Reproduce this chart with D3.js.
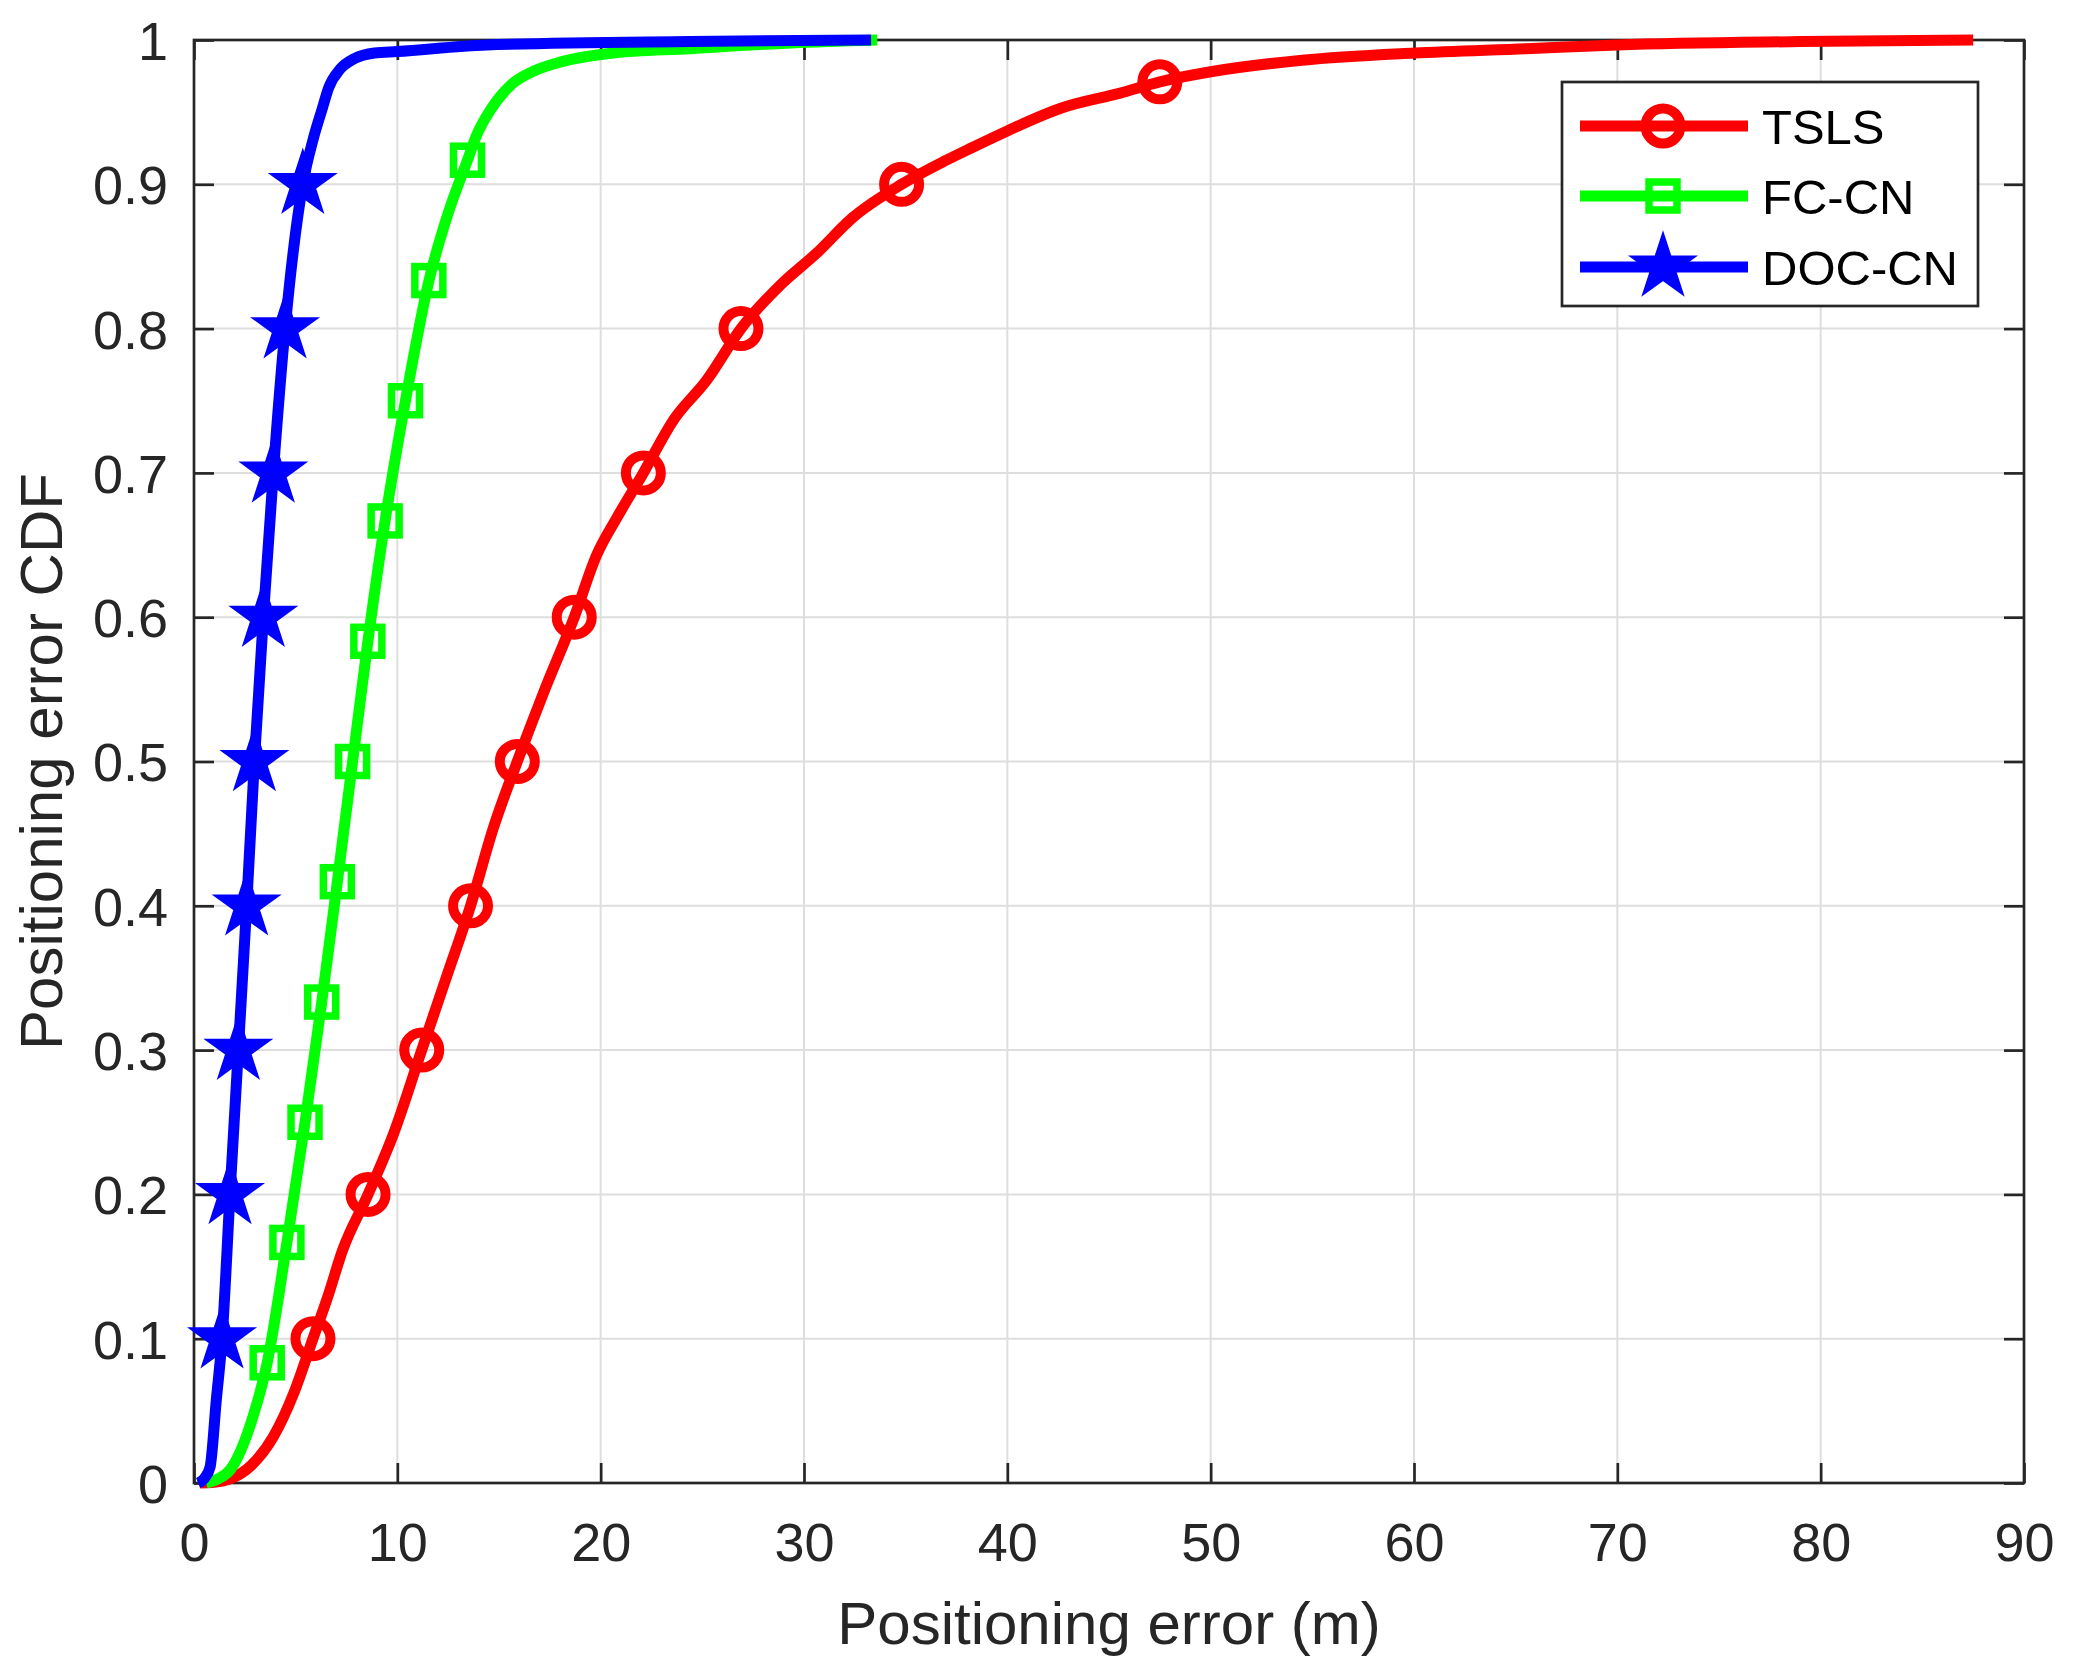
<!DOCTYPE html>
<html>
<head>
<meta charset="utf-8">
<script src="https://cdn.jsdelivr.net/npm/d3@7"></script>
<style>
  html, body { margin: 0; padding: 0; background: #fff; }
  svg { display: block; }
  text { font-family: "Liberation Sans", Arial, Helvetica, sans-serif; }
</style>
</head>
<body>
<svg id="chart" width="2076" height="1674"></svg>
<script>
// ---------------- DATA ----------------
const xTicks = [0, 10, 20, 30, 40, 50, 60, 70, 80, 90];
const xTickLabels = ["0", "10", "20", "30", "40", "50", "60", "70", "80", "90"];
const yTicks = [0, 0.1, 0.2, 0.3, 0.4, 0.5, 0.6, 0.7, 0.8, 0.9, 1];
const yTickLabels = ["0", "0.1", "0.2", "0.3", "0.4", "0.5", "0.6", "0.7", "0.8", "0.9", "1"];

const seriesNames = ["TSLS", "FC-CN", "DOC-CN"];
const seriesColors = ["#ff0000", "#00ff00", "#0000ff"];
const seriesMarkers = ["circle", "square", "star"];

// TSLS curve (x = error in m, y = CDF)
const tslsX = [0.3, 1.0, 1.8, 2.8, 3.9, 4.9, 5.85, 6.6, 7.3, 8.56, 9.84, 11.2, 12.4, 13.6, 14.7, 15.9, 17.2, 18.7, 19.8, 20.8, 22.1, 23.6, 25.2, 26.9, 28.9, 30.6, 32.4, 34.8, 36.9, 38.2, 40, 42.7, 45.5, 47.5, 50, 54.5, 60, 65.5, 70, 79, 87.5];
const tslsY = [0, 0.0005, 0.003, 0.012, 0.032, 0.062, 0.10, 0.13, 0.161, 0.2, 0.243, 0.3, 0.35, 0.4, 0.453, 0.5, 0.548, 0.6, 0.643, 0.669, 0.7, 0.737, 0.764, 0.8, 0.831, 0.852, 0.877, 0.9, 0.916, 0.925, 0.937, 0.953, 0.963, 0.971, 0.978, 0.986, 0.991, 0.994, 0.9966, 0.9989, 1.0];

// FC-CN curve
const fccnX = [0.6, 1.2, 1.77, 2.9, 3.6, 4.57, 5.46, 6.28, 7.05, 7.8, 8.55, 9.4, 10.4, 11.55, 12.5, 13.45, 13.9, 14.6, 15.6, 16.8, 18.1, 20.6, 24.4, 29.4, 33.6];
const fccnY = [0, 0.003, 0.009, 0.046, 0.0833, 0.1667, 0.25, 0.333, 0.4167, 0.5, 0.583, 0.667, 0.75, 0.833, 0.88, 0.9167, 0.934, 0.952, 0.969, 0.979, 0.985, 0.991, 0.994, 0.998, 1.0];

// DOC-CN curve
const doccnX = [0.2, 0.5, 0.79, 1.1, 1.38, 1.77, 2.18, 2.59, 2.97, 3.41, 3.9, 4.48, 5.35, 5.875, 6.3, 6.625, 7.2, 7.875, 8.875, 10, 14.4, 24.4, 33.3];
const doccnY = [0, 0.003, 0.011, 0.058, 0.1, 0.2, 0.3, 0.4, 0.5, 0.6, 0.7, 0.8, 0.9, 0.932, 0.952, 0.967, 0.98, 0.987, 0.991, 0.992, 0.9966, 0.999, 1.0];

// marker positions
const tslsMarkX = [5.85, 8.56, 11.2, 13.6, 15.9, 18.7, 22.1, 26.9, 34.8, 47.5];
const tslsMarkY = [0.1, 0.2, 0.3, 0.4, 0.5, 0.6, 0.7, 0.8, 0.9, 0.971];
const fccnMarkX = [3.6, 4.57, 5.46, 6.28, 7.05, 7.8, 8.55, 9.4, 10.4, 11.55, 13.45];
const fccnMarkY = [0.0833, 0.1667, 0.25, 0.3333, 0.4167, 0.5, 0.5833, 0.6667, 0.75, 0.8333, 0.9167];
const doccnMarkX = [1.38, 1.77, 2.18, 2.59, 2.97, 3.41, 3.9, 4.48, 5.35];
const doccnMarkY = [0.1, 0.2, 0.3, 0.4, 0.5, 0.6, 0.7, 0.8, 0.9];

const xLabel = "Positioning error (m)";
const yLabel = "Positioning error CDF";

// ---------------- LAYOUT ----------------
const L = 194, R = 2024, T = 40, B = 1483;
const x = d3.scaleLinear().domain([0, 90]).range([L, R]);
const y = d3.scaleLinear().domain([0, 1]).range([B, T]);
const axisColor = "#262626";
const tickFont = 54, labelFont = 60, legendFont = 49;
const lineW = 11;
const tickLen = 20;

const svg = d3.select("#chart");
svg.append("rect").attr("width", 2076).attr("height", 1674).attr("fill", "#fff");

// grid
const grid = svg.append("g");
grid.selectAll("line.gx").data(xTicks.slice(1, -1)).join("line")
  .attr("x1", d => x(d)).attr("x2", d => x(d)).attr("y1", T).attr("y2", B)
  .attr("stroke", "#dedede").attr("stroke-width", 2);
grid.selectAll("line.gy").data(yTicks.slice(1, -1)).join("line")
  .attr("y1", d => y(d)).attr("y2", d => y(d)).attr("x1", L).attr("x2", R)
  .attr("stroke", "#dedede").attr("stroke-width", 2);

// axes (ticks inward on all sides)
function styleAxis(g) {
  g.select(".domain").remove();
  g.selectAll(".tick line").attr("stroke", axisColor).attr("stroke-width", 2.7);
  g.selectAll(".tick text").attr("fill", axisColor).style("font-size", tickFont + "px")
    .style("font-family", '"Liberation Sans", Arial, sans-serif');
}
const gx = svg.append("g").attr("transform", `translate(0,${B})`)
  .call(d3.axisBottom(x).tickValues(xTicks).tickFormat((d, i) => xTickLabels[i])
    .tickSizeInner(-tickLen).tickSizeOuter(0).tickPadding(40));
styleAxis(gx);
const gy = svg.append("g").attr("transform", `translate(${L},0)`)
  .call(d3.axisLeft(y).tickValues(yTicks).tickFormat((d, i) => yTickLabels[i])
    .tickSizeInner(-tickLen).tickSizeOuter(0).tickPadding(26));
styleAxis(gy);
gy.selectAll(".tick text").attr("dy", "0.36em");
const gt = svg.append("g").attr("transform", `translate(0,${T})`)
  .call(d3.axisTop(x).tickValues(xTicks).tickFormat("").tickSizeInner(-tickLen).tickSizeOuter(0));
styleAxis(gt);
const gr = svg.append("g").attr("transform", `translate(${R},0)`)
  .call(d3.axisRight(y).tickValues(yTicks).tickFormat("").tickSizeInner(-tickLen).tickSizeOuter(0));
styleAxis(gr);

svg.append("rect").attr("x", L).attr("y", T).attr("width", R - L).attr("height", B - T)
  .attr("fill", "none").attr("stroke", axisColor).attr("stroke-width", 2.7);

// axis labels
svg.append("text").attr("x", (L + R) / 2).attr("y", 1644).attr("text-anchor", "middle")
  .attr("fill", axisColor).style("font-size", labelFont + "px").text(xLabel);
svg.append("text").attr("transform", `translate(62,${(T + B) / 2}) rotate(-90)`)
  .attr("text-anchor", "middle").attr("fill", axisColor)
  .style("font-size", labelFont + "px").text(yLabel);

// marker shapes
function starPath(Ro) {
  const ri = Ro * 0.382;
  const pts = [];
  for (let k = 0; k < 10; k++) {
    const a = -Math.PI / 2 + k * Math.PI / 5;
    const r = k % 2 === 0 ? Ro : ri;
    pts.push([r * Math.cos(a), r * Math.sin(a)]);
  }
  return "M" + pts.map(p => p[0].toFixed(2) + "," + p[1].toFixed(2)).join("L") + "Z";
}
function drawMarker(g, type, color, cx, cy) {
  if (type === "circle") {
    g.append("circle").attr("cx", cx).attr("cy", cy).attr("r", 17.5)
      .attr("fill", "none").attr("stroke", color).attr("stroke-width", 10);
  } else if (type === "square") {
    g.append("rect").attr("x", cx - 14).attr("y", cy - 14).attr("width", 28).attr("height", 28)
      .attr("fill", "none").attr("stroke", color).attr("stroke-width", 7.5);
  } else {
    g.append("path").attr("transform", `translate(${cx},${cy})`).attr("d", starPath(32))
      .attr("fill", color).attr("stroke", color).attr("stroke-width", 3).attr("stroke-linejoin", "miter");
  }
}

// curves
const curveData = [
  { xs: tslsX, ys: tslsY, mx: tslsMarkX, my: tslsMarkY },
  { xs: fccnX, ys: fccnY, mx: fccnMarkX, my: fccnMarkY },
  { xs: doccnX, ys: doccnY, mx: doccnMarkX, my: doccnMarkY }
];
const line = d3.line().x(d => x(d[0])).y(d => y(d[1])).curve(d3.curveMonotoneX);
curveData.forEach((s, i) => {
  const g = svg.append("g");
  const pts = s.xs.map((v, k) => [v, s.ys[k]]);
  g.append("path").attr("d", line(pts)).attr("fill", "none")
    .attr("stroke", seriesColors[i]).attr("stroke-width", lineW)
    .attr("stroke-linejoin", "round").attr("stroke-linecap", "butt");
  s.mx.forEach((v, k) => drawMarker(g, seriesMarkers[i], seriesColors[i], x(v), y(s.my[k])));
});

// legend
const lg = svg.append("g");
lg.append("rect").attr("x", 1562).attr("y", 82).attr("width", 416).attr("height", 224)
  .attr("fill", "#fff").attr("stroke", axisColor).attr("stroke-width", 2.7);
const rowY = [126, 196, 267];
seriesNames.forEach((name, i) => {
  lg.append("line").attr("x1", 1580).attr("x2", 1748).attr("y1", rowY[i]).attr("y2", rowY[i])
    .attr("stroke", seriesColors[i]).attr("stroke-width", lineW);
  drawMarker(lg, seriesMarkers[i], seriesColors[i], 1663, rowY[i]);
  lg.append("text").attr("x", 1762).attr("y", rowY[i]).attr("dy", "0.36em")
    .attr("fill", "#000").style("font-size", legendFont + "px").text(name);
});
</script>
</body>
</html>
